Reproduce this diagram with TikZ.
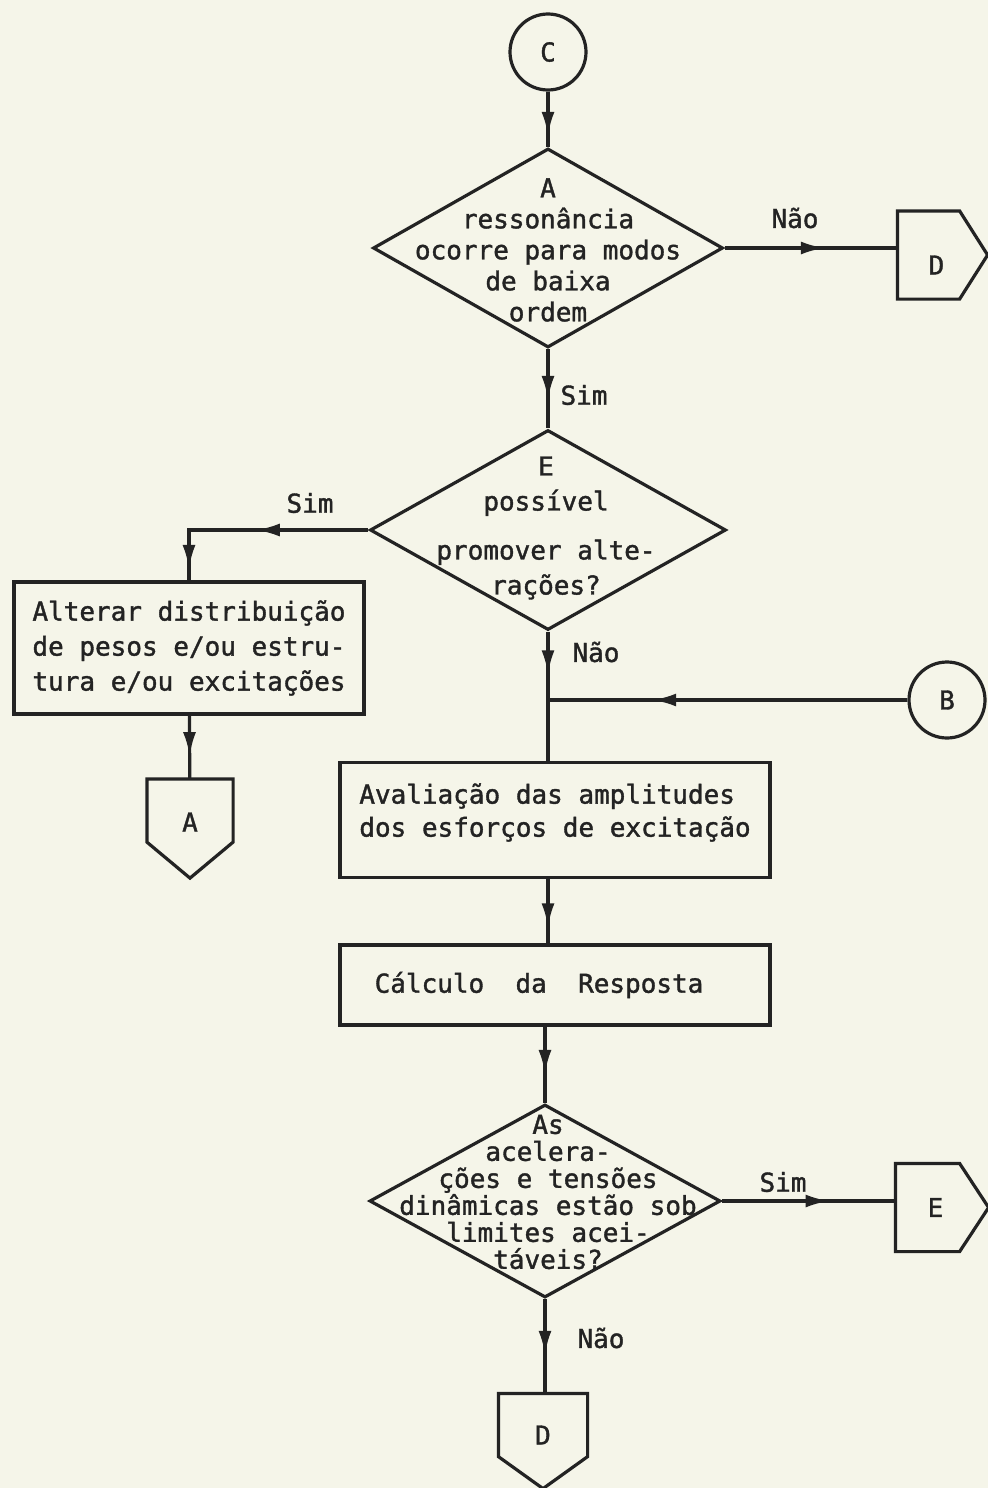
\documentclass[tikz,border=0pt]{standalone}
\usepackage{fontspec}
\setmainfont{DejaVu Sans Mono}[BoldFont=DejaVu Sans Mono,BoldFeatures={FakeBold=1.4}]
\usetikzlibrary{shapes.geometric,arrows.meta,decorations.markings}
\definecolor{paper}{RGB}{245,245,233}
\definecolor{ink}{RGB}{35,35,35}

\begin{document}
\begin{tikzpicture}[x=0.5pt,y=-0.5pt,line width=1.6pt,draw=ink,
  >={Latex[length=12pt,width=6.5pt]},
  every node/.style={font=\fontsize{13}{15.5}\selectfont\bfseries,text=ink},
  decision/.style={draw,shape=diamond,inner sep=0pt},
  dtext/.style={align=center,inner sep=0pt},
  process/.style={draw,rectangle,inner sep=2pt,minimum width=215pt},
  connector/.style={draw,circle,minimum size=38pt,inner sep=0pt},
  offpage/.style={rectangle,inner sep=0pt,minimum width=#1,minimum height=30pt},
  offpage/.default=42.5pt,
  flow/.style={postaction={decorate},decoration={markings,
    mark=at position #1 with {\arrow{>}}}},
  flow/.default=0.6,
  flowtwo/.style 2 args={postaction={decorate},decoration={markings,
    mark=at position #1 with {\arrow{>}},mark=at position #2 with {\arrow{>}}}}]
  %%% page
  \fill[paper] (0,0) rectangle (988,1488);
  \useasboundingbox (0,0) rectangle (988,1488);
  %%% connectors
  \node (C) [connector] at (548,52) {C};
  \node (B) [connector] at (947,700) {B};
  \node (offDr) [offpage=29.5pt,minimum height=42.5pt,text height=19.5pt] at (928.5,255) {\hspace{8pt}D};
  \node (offE) [offpage=30.5pt,minimum height=42.5pt] at (927.5,1207.5) {\hspace{8pt}E};
  \node (offA) [offpage=41.5pt,text height=21pt] at (190,810.5) {A};
  \node (offD) [offpage=43pt,text height=19.5pt] at (543,1425) {D};
  \draw (offDr.north west) -- (offDr.north east) -- ([xshift=14pt]offDr.east)
    -- (offDr.south east) -- (offDr.south west) -- cycle;
  \draw (offE.north west) -- (offE.north east) -- ([xshift=14.5pt]offE.east)
    -- (offE.south east) -- (offE.south west) -- cycle;
  \draw (offA.north west) -- (offA.north east) -- (offA.south east)
    -- ([yshift=-18pt]offA.south) -- (offA.south west) -- cycle;
  \draw (offD.north west) -- (offD.north east) -- (offD.south east)
    -- ([yshift=-16pt]offD.south) -- (offD.south west) -- cycle;
  %%% decisions
  \node (d1) [decision,minimum width=175pt,minimum height=99.5pt] at (548,248) {};
  \node (t1) [dtext] at (548,250) {A\\ressonância\\ocorre para modos\\de baixa\\ordem};
  \node (d2) [decision,minimum width=178pt,minimum height=100pt] at (548,530) {};
  \node (t2) [dtext,font=\fontsize{13}{17.5}\selectfont\bfseries] at (546,528)
    {E\\possível\\[7pt]promover alte-\\rações?};
  \node (d3) [decision,minimum width=175.5pt,minimum height=96.5pt] at (545,1201) {};
  \node (t3) [dtext,font=\fontsize{13}{13.5}\selectfont\bfseries] at (548,1192)
    {As\\acelera-\\ções e tensões\\dinâmicas estão sob\\limites acei-\\táveis?};
  %%% processes
  \node (alt) [process,minimum width=175pt,minimum height=66pt,align=center,
    font=\fontsize{13}{17.5}\selectfont\bfseries] at (189,648)
    {Alterar distribuição\\de pesos e/ou estru-\\tura e/ou excitações};
  \node (avl) [process,minimum height=57.5pt,align=left,
    text depth=10pt,font=\fontsize{13}{16.5}\selectfont\bfseries] at (555,820)
    {Avaliação das amplitudes\\dos esforços de excitação};
  \node (calc) [process,minimum height=40pt] at (555,985) {Cálculo~ da~ Resposta\kern16pt};
  %%% junction
  \coordinate (jn) at (548,700);
  %%% edges
  \draw[flow=0.8] (C) -- (d1);
  \draw[flow=0.58] (d1.east) -- (d1.east -| offDr.west);
  \draw[flow=0.64] (d1) -- (d2);
  \draw[flowtwo={0.49}{0.95}] (d2.west) -| (alt.north);
  \draw[flow=0.64] (alt) -- (offA);
  \draw[flow=0.33] (d2.south) -- (d2.south |- avl.north);
  \draw[flow=0.71] (B) -- (jn);
  \draw[flow=0.75] (avl.south -| d2.south) -- (d2.south |- calc.north);
  \draw[flow=0.62] (calc.south -| d3.north) -- (d3.north);
  \draw[flow=0.62] (d3.east) -- (d3.east -| offE.west);
  \draw[flow=0.59] (d3.south) -- (d3.south |- offD.north);
  %%% labels
  \node (lblNao1) at (795,218) {Não};
  \node (lblSim1) at (584,395) {Sim};
  \node (lblSim2) at (310,503) {Sim};
  \node (lblNao2) at (596,652) {Não};
  \node (lblSim3) at (783,1182) {Sim};
  \node (lblNao3) at (601,1338) {Não};
\end{tikzpicture}
\end{document}
